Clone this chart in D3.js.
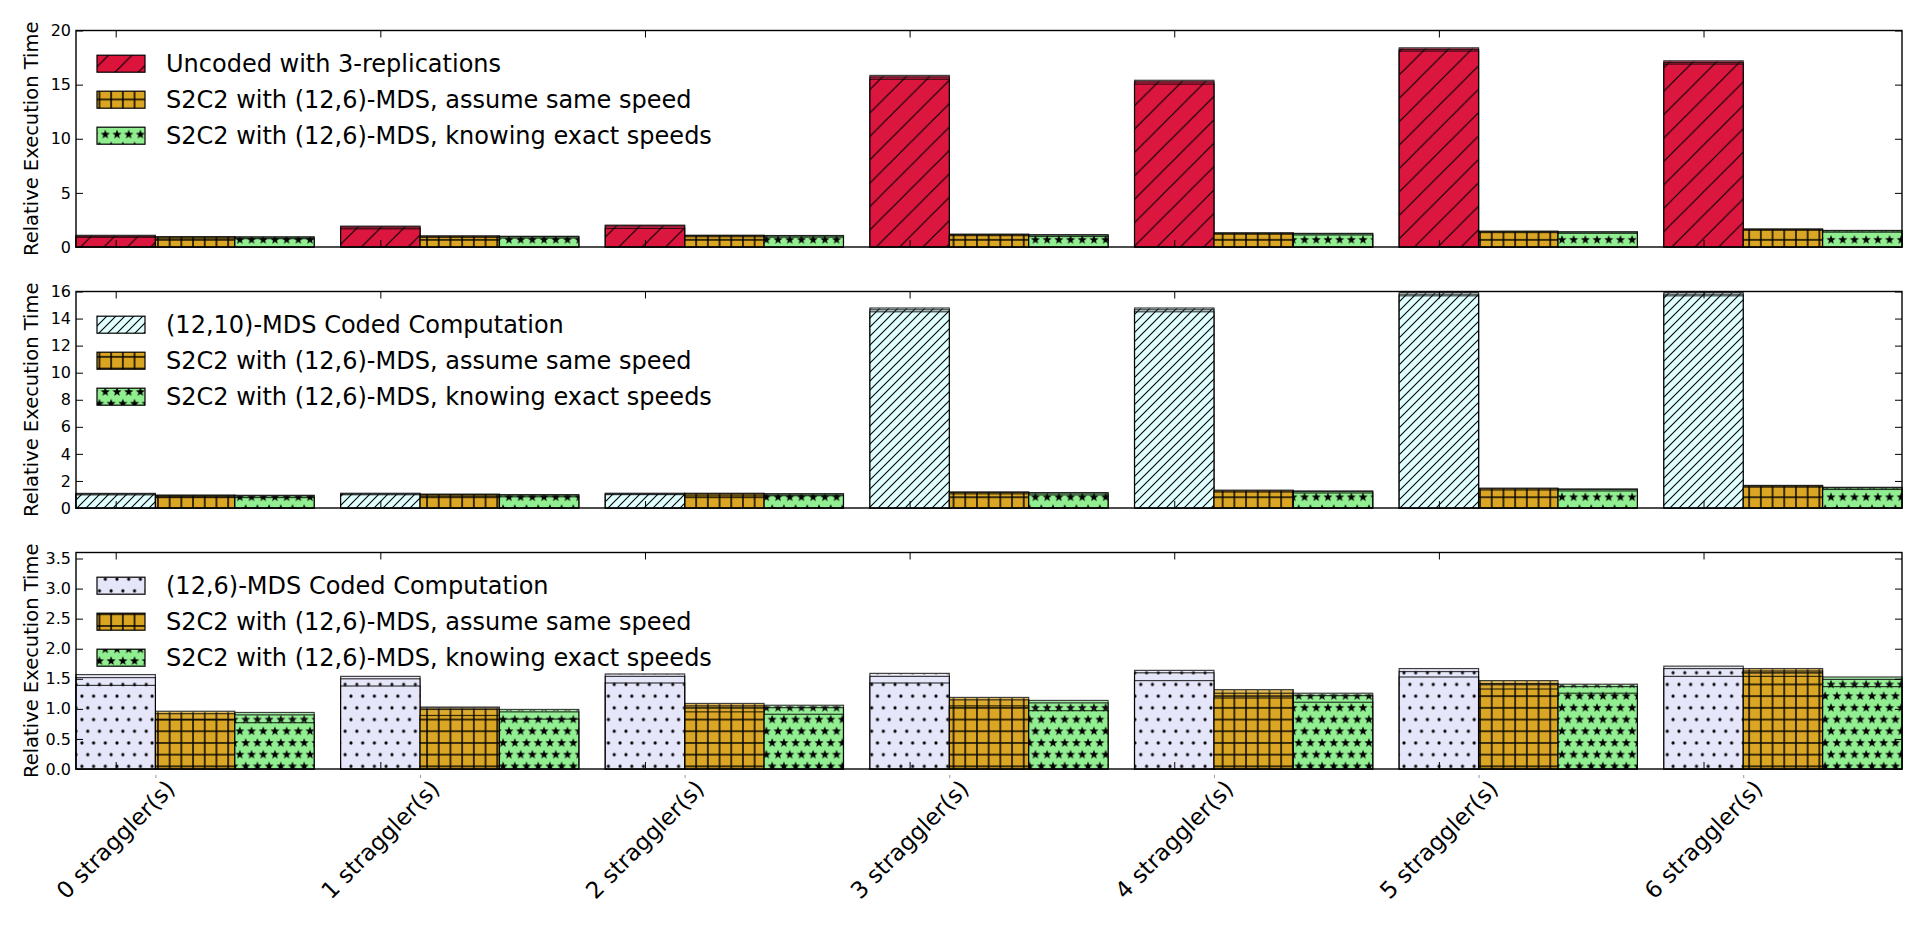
<!DOCTYPE html>
<html>
<head>
<meta charset="utf-8">
<script src="https://cdn.jsdelivr.net/npm/d3@7"></script>
<style>
  body { margin: 0; background: #fff; }
  svg { display: block; font-family: "DejaVu Sans", sans-serif; }
</style>
</head>
<body>
<svg id="chart"></svg>
<script>
// --- Data: each bar is three overlaid runs [highest, middle, lowest] ---
const categories = ["0 straggler(s)", "1 straggler(s)", "2 straggler(s)", "3 straggler(s)",
                    "4 straggler(s)", "5 straggler(s)", "6 straggler(s)"];

const uncoded3rep = [[1.08, 1.0, 0.9], [1.93, 1.85, 1.68], [2.02, 1.95, 1.72], [15.85, 15.7, 15.5],
                     [15.4, 15.25, 15.05], [18.4, 18.25, 18.1], [17.2, 17.05, 16.9]];
const mds1210 = [[1.08, 1.03, 0.97], [1.09, 1.04, 0.98], [1.09, 1.05, 0.99], [14.78, 14.65, 14.5],
                 [14.78, 14.65, 14.5], [15.93, 15.8, 15.68], [15.93, 15.8, 15.68]];
const mds126 = [[1.57, 1.52, 1.39], [1.54, 1.5, 1.38], [1.58, 1.54, 1.43], [1.59, 1.54, 1.43],
                [1.64, 1.6, 1.47], [1.67, 1.62, 1.53], [1.71, 1.67, 1.54]];
const s2c2Same = [[0.96, 0.92, 0.82], [1.03, 0.99, 0.89], [1.09, 1.05, 0.95], [1.19, 1.15, 1.05],
                  [1.32, 1.26, 1.18], [1.47, 1.42, 1.33], [1.67, 1.63, 1.54]];
const s2c2Exact = [[0.94, 0.9, 0.77], [0.99, 0.95, 0.83], [1.06, 1.02, 0.91], [1.14, 1.1, 0.97],
                   [1.26, 1.22, 1.11], [1.41, 1.37, 1.26], [1.53, 1.49, 1.37]];

const labelsTop = ["Uncoded with 3-replications", "S2C2 with (12,6)-MDS, assume same speed",
                   "S2C2 with (12,6)-MDS, knowing exact speeds"];
const labelsMid = ["(12,10)-MDS Coded Computation", "S2C2 with (12,6)-MDS, assume same speed",
                   "S2C2 with (12,6)-MDS, knowing exact speeds"];
const labelsBot = ["(12,6)-MDS Coded Computation", "S2C2 with (12,6)-MDS, assume same speed",
                   "S2C2 with (12,6)-MDS, knowing exact speeds"];

const ticksTop = [0, 5, 10, 15, 20];
const ticksMid = [0, 2, 4, 6, 8, 10, 12, 14, 16];
const ticksBot = [0, 0.5, 1, 1.5, 2, 2.5, 3, 3.5];

// --- Styles ---
const styles = {
  uncoded: { color: "#DC143C", hatch: "slash" },
  mds1210: { color: "#E0FFFF", hatch: "dslash" },
  mds126:  { color: "#E6E6FA", hatch: "dots" },
  same:    { color: "#DAA520", hatch: "plus" },
  exact:   { color: "#90EE90", hatch: "stars" }
};

const width = 1920, height = 925;
const left = 76, right = 1902;
const panelTops = [30.5, 291.5, 552.5];
const panelH = 216.5;
const barW = 0.3;

const panels = [
  { series: [uncoded3rep, s2c2Same, s2c2Exact], styles: [styles.uncoded, styles.same, styles.exact],
    labels: labelsTop, yMax: 20, ticks: ticksTop, fmt: d3.format("d") },
  { series: [mds1210, s2c2Same, s2c2Exact], styles: [styles.mds1210, styles.same, styles.exact],
    labels: labelsMid, yMax: 16, ticks: ticksMid, fmt: d3.format("d") },
  { series: [mds126, s2c2Same, s2c2Exact], styles: [styles.mds126, styles.same, styles.exact],
    labels: labelsBot, yMax: 3.6, ticks: ticksBot, fmt: d3.format(".1f") }
];

const svg = d3.select("#chart").attr("width", width).attr("height", height);

// --- Hatch patterns ---
const defs = svg.append("defs");
const S = 11.7;

function linePattern(id, s, sw) {
  defs.append("pattern").attr("id", id).attr("patternUnits", "userSpaceOnUse")
    .attr("width", s).attr("height", s)
    .append("path")
    .attr("d", `M0,${s} L${s},0 M${-s / 2},${s / 2} L${s / 2},${-s / 2} M${s / 2},${s * 1.5} L${s * 1.5},${s / 2}`)
    .attr("stroke", "#000").attr("stroke-width", sw).attr("fill", "none");
}
linePattern("hatch-slash", 23.4, 1.2);
linePattern("hatch-dslash", 9, 1.1);

defs.append("pattern").attr("id", "hatch-plus").attr("patternUnits", "userSpaceOnUse")
  .attr("width", S).attr("height", S)
  .append("path")
  .attr("d", `M${S / 2},0 V${S} M0,${S / 2} H${S}`)
  .attr("stroke", "#000").attr("stroke-width", 1.5).attr("fill", "none");

const starPath = d3.lineRadial().curve(d3.curveLinearClosed)(
  d3.range(10).map(k => [k * Math.PI / 5, k % 2 ? 2.0 : 4.8])
);
const starPat = defs.append("pattern").attr("id", "hatch-stars").attr("patternUnits", "userSpaceOnUse")
  .attr("width", S).attr("height", 2 * S);
[[S / 2, S / 2], [0, 1.5 * S], [S, 1.5 * S]].forEach(([cx, cy]) => {
  starPat.append("path").attr("d", starPath).attr("transform", `translate(${cx},${cy})`).attr("fill", "#000");
});

const dotPat = defs.append("pattern").attr("id", "hatch-dots").attr("patternUnits", "userSpaceOnUse")
  .attr("width", S).attr("height", 2 * S);
[[S / 2, S / 2], [0, 1.5 * S], [S, 1.5 * S]].forEach(([cx, cy]) => {
  dotPat.append("circle").attr("cx", cx).attr("cy", cy).attr("r", 1.6).attr("fill", "#000");
});

// --- Shared x scale ---
const x = d3.scaleLinear().domain([0, categories.length - 1 + 3 * barW]).range([left, right]);
const bw = x(barW) - x(0);
const catTicks = categories.map((c, i) => i + barW / 2);

panels.forEach((p, pi) => {
  const top = panelTops[pi];
  const y = d3.scaleLinear().domain([0, p.yMax]).range([top + panelH, top]);
  const g = svg.append("g");

  // flatten runs: draw all highest first, then middle, then lowest
  const marks = [];
  [0, 1, 2].forEach(k => p.series.forEach((ser, j) => ser.forEach((runs, i) => {
    marks.push({ i, j, k, v: runs[k], st: p.styles[j] });
  })));

  const layer = g.selectAll("g.bar").data(marks).join("g")
    .attr("class", "bar").attr("opacity", 0.75);
  layer.append("rect")
    .attr("x", d => x(d.i + d.j * barW)).attr("width", bw)
    .attr("y", d => y(d.v)).attr("height", d => y(0) - y(d.v))
    .attr("fill", d => d.st.color);
  layer.append("rect")
    .attr("x", d => x(d.i + d.j * barW)).attr("width", bw)
    .attr("y", d => y(d.v)).attr("height", d => y(0) - y(d.v))
    .attr("fill", d => `url(#hatch-${d.st.hatch})`)
    .attr("stroke", "#000").attr("stroke-width", 1.2);

  // --- Axes (ticks inward on all sides) ---
  const yl = g.append("g").attr("transform", `translate(${left},0)`)
    .call(d3.axisLeft(y).tickValues(p.ticks).tickFormat(p.fmt).tickSizeInner(-7).tickSizeOuter(0).tickPadding(5));
  yl.select(".domain").remove();
  yl.selectAll("text").attr("font-size", 16).attr("font-family", "DejaVu Sans").attr("fill", "#000");

  const yr = g.append("g").attr("transform", `translate(${right},0)`)
    .call(d3.axisRight(y).tickValues(p.ticks).tickFormat("").tickSizeInner(-7).tickSizeOuter(0));
  yr.select(".domain").remove();

  const xt = g.append("g").attr("transform", `translate(0,${top})`)
    .call(d3.axisTop(x).tickValues(catTicks).tickFormat("").tickSizeInner(-7).tickSizeOuter(0));
  xt.select(".domain").remove();
  const xb = g.append("g").attr("transform", `translate(0,${top + panelH})`)
    .call(d3.axisBottom(x).tickValues(catTicks).tickFormat("").tickSizeInner(-7).tickSizeOuter(0));
  xb.select(".domain").remove();

  g.append("rect").attr("x", left).attr("y", top).attr("width", right - left).attr("height", panelH)
    .attr("fill", "none").attr("stroke", "#000").attr("stroke-width", 1.4);

  // y label
  g.append("text")
    .attr("transform", `translate(38,${top + panelH / 2}) rotate(-90)`)
    .attr("text-anchor", "middle").attr("font-size", 19.5)
    .text("Relative Execution Time");

  // --- Legend (no frame) ---
  const leg = g.append("g");
  p.labels.forEach((lab, r) => {
    const base = top + 41.2 + r * 36;
    const st = p.styles[r];
    leg.append("rect").attr("x", 97).attr("y", base - 16.5).attr("width", 48).attr("height", 17)
      .attr("fill", st.color);
    leg.append("rect").attr("x", 97).attr("y", base - 16.5).attr("width", 48).attr("height", 17)
      .attr("fill", `url(#hatch-${st.hatch})`).attr("stroke", "#000").attr("stroke-width", 1.2);
    leg.append("text").attr("x", 166).attr("y", base).attr("font-size", 24).text(lab);
  });

  // x tick labels below the bottom panel
  if (pi === panels.length - 1) {
    const fs = 23;
    const bot = top + panelH;
    const small = g.append("g").attr("transform", `translate(0,${bot + 6})`)
      .call(d3.axisBottom(x).tickValues(categories.map((c, i) => i + barW)).tickFormat("").tickSizeInner(3).tickSizeOuter(0));
    small.select(".domain").remove();
    small.selectAll("line").attr("stroke", "#999");

    g.selectAll("text.xlab").data(categories).join("text")
      .attr("class", "xlab")
      .attr("font-size", fs)
      .attr("text-anchor", "middle")
      .attr("dy", "0.346em")
      .text(d => d)
      .attr("transform", function (d, i) {
        const L = this.getComputedTextLength();
        const half = (L + 1.164 * fs) / (2 * Math.SQRT2);
        return `translate(${x(i + barW / 2)},${bot + 6 + half}) rotate(-45)`;
      });
  }
});
</script>
</body>
</html>
